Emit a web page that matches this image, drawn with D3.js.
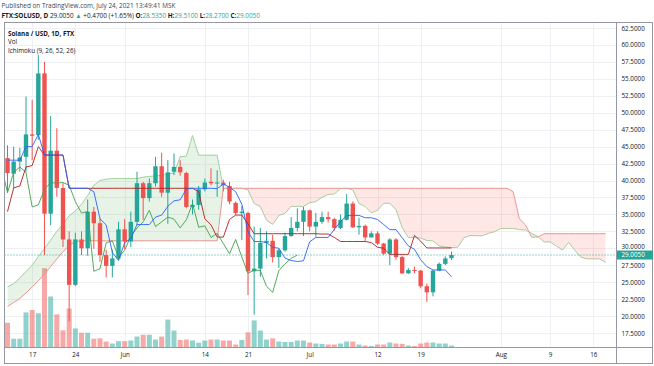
<!DOCTYPE html>
<html><head><meta charset="utf-8">
<script src="https://cdn.jsdelivr.net/npm/d3@7"></script>
<style>
html,body{margin:0;padding:0;background:#fff;}
svg{display:block;font-family:"Open Sans",Roboto,sans-serif;}
</style></head><body>
<svg id="chart" width="654" height="366"></svg>
<script>
// ---------- DATA ----------
const startDate = "2021-05-13";   // first candle; one candle per day
const opens  = [43.3,41.0,42.8,43.5,46.8,46.7,55.8,35.1,44.4,38.9,31.3,24.6,31.3,30.0,35.4,33.7,29.0,27.4,28.5,32.8,31.0,33.9,39.6,37.4,39.6,42.1,38.2,41.3,42.0,41.1,36.1,36.4,38.7,39.8,39.6,39.7,39.2,36.7,35.2,35.2,26.6,27.0,30.8,31.1,28.7,29.7,31.8,33.0,33.9,35.6,33.2,33.9,34.6,34.3,33.0,34.2,36.6,33.1,33.3,31.6,32.2,30.7,29.2,31.3,28.7,26.3,26.8,26.7,24.4,23.5,26.7,27.7,28.535];
const highs  = [45.2,45.0,44.8,52.4,51.9,58.5,57.5,49.5,47.7,39.6,32.5,32.3,32.5,37.2,36.1,34.4,29.8,29.8,33.9,34.3,35.4,41.3,39.8,40.3,43.5,44.1,43.0,44.0,43.0,41.3,37.2,39.2,40.3,41.8,41.5,40.1,39.8,36.9,36.2,35.4,33.2,33.0,32.5,32.0,30.0,32.3,34.6,35.9,36.1,35.7,35.2,35.4,35.4,34.5,35.0,38.0,36.9,34.5,33.5,32.5,32.5,30.8,31.5,31.5,28.9,27.1,27.3,26.8,24.8,26.8,27.9,28.8,29.51];
const lows   = [38.4,38.9,41.3,41.3,43.0,46.0,29.0,33.4,37.6,30.2,19.2,24.4,29.0,28.9,29.9,28.0,25.7,25.7,28.3,29.9,30.2,33.4,34.2,36.9,39.1,37.6,33.6,40.8,40.7,35.9,35.0,35.7,38.4,39.3,37.6,38.4,36.5,34.9,31.2,23.1,20.2,25.8,28.5,27.9,27.1,29.5,31.7,32.5,31.8,32.5,31.7,33.6,33.8,32.6,32.8,34.1,33.0,32.0,31.0,31.6,30.5,29.0,27.5,28.3,26.2,26.2,26.3,24.1,22.1,22.9,26.6,27.5,28.27];
const closes = [41.1,42.8,43.4,46.8,46.6,55.8,35.1,44.4,38.9,31.3,24.6,31.3,30.0,35.4,33.7,29.0,27.4,28.5,32.8,31.0,33.9,39.6,37.4,39.6,42.1,38.2,41.2,42.0,41.2,36.1,36.4,38.7,39.7,39.6,39.7,39.3,36.9,35.2,35.4,26.6,27.0,30.8,31.1,28.7,29.7,31.8,33.0,33.9,35.6,33.2,33.9,34.6,34.3,33.0,34.2,36.6,33.1,33.3,31.6,32.2,30.7,29.2,31.3,28.7,26.3,26.8,26.7,24.4,23.5,26.7,27.7,28.5,29.005];
// volume (thousand SOL)
const volumes = [620,220,220,880,940,860,1990,1280,830,430,980,480,370,370,220,230,150,100,160,160,175,275,320,320,200,275,700,425,190,200,175,120,175,200,200,175,175,75,190,380,680,425,200,230,150,140,140,175,175,125,100,90,75,75,100,150,150,75,50,40,75,75,125,100,90,50,40,100,125,125,100,100,50];
// Ichimoku lines, one value per candle
const tenkan = [43.0,43.0,43.0,45.0,45.0,46.8,43.75,43.75,43.75,43.75,38.85,38.85,38.85,38.85,38.35,34.35,33.45,29.4,28.2,30.8,31.45,33.5,33.5,33.5,34.6,34.9,36.2,37.0,37.15,38.75,38.85,38.85,38.85,38.85,38.8,39.5,39.0,38.35,36.5,32.45,31.0,31.0,30.85,30.15,30.0,28.55,28.2,28.05,28.15,30.95,31.6,31.6,31.6,32.8,33.9,34.85,34.85,34.85,34.5,34.5,34.25,33.5,32.75,32.75,31.55,30.35,29.85,28.3,27.3,26.8,26.8,26.8,25.8];
const kijun  = [35.4,38.9,39.2,42.0,42.2,45.0,43.75,43.75,43.75,43.75,38.85,38.85,38.85,38.85,38.85,38.85,38.85,38.85,38.85,38.85,38.85,38.85,38.85,38.85,38.85,38.85,38.85,38.85,38.85,38.85,38.85,38.35,34.35,33.45,31.65,31.65,34.25,34.9,34.9,33.6,32.15,32.15,32.15,32.15,32.15,32.15,32.15,32.15,32.15,32.15,32.15,32.1,32.1,31.6,31.0,31.0,31.0,31.0,31.0,30.85,30.15,30.0,29.1,29.1,29.1,29.1,31.9,31.05,30.05,30.05,30.05,30.05,30.05];
// leading spans, one value per day starting at the first candle (run 25 days past the last one)
const spanA = [24.3,24.8,25.6,26.6,27.5,28.8,30.0,31.2,32.5,33.6,34.8,35.5,36.5,37.8,39.3,40.0,40.2,40.3,40.3,40.3,40.3,40.3,40.5,40.6,40.7,
  40.75,41.0,41.1,43.5,43.6,46.65,43.75,43.75,43.75,43.75,38.85,38.85,38.85,38.85,38.6,36.6,36.15,34.13,33.53,34.83,35.15,36.18,36.18,36.18,36.73,36.88,37.53,37.93,38.0,38.8,38.85,38.6,36.6,36.15,35.23,35.58,36.63,36.63,35.7,33.03,31.58,31.58,31.5,31.15,31.08,30.35,30.18,30.1,30.15,31.55,31.88,31.85,31.85,32.2,32.45,32.93,32.93,32.93,32.75,32.68,32.2,31.75,30.93,30.93,30.33,29.73,30.88,29.68,28.68,28.43,28.43,28.43,27.93];
const spanB = [21.4,22.0,22.6,23.4,24.3,25.2,26.2,27.3,28.4,29.5,30.4,31.0,31.1,31.1,31.1,31.1,31.1,31.1,31.1,31.1,31.1,31.1,31.1,31.1,31.1,31.1,31.1,31.1,31.1,31.1,31.1,31.1,31.1,31.1,31.1,
  38.85,38.85,38.85,38.85,38.85,38.85,38.85,38.85,38.85,38.85,38.85,38.85,38.85,38.85,38.85,38.85,38.85,38.85,38.85,38.85,38.85,38.85,38.85,38.85,38.85,38.85,38.85,38.85,38.85,38.85,38.85,38.85,38.85,38.85,38.85,38.85,38.85,38.85,38.85,38.85,38.85,38.85,38.85,38.85,38.85,38.85,38.85,
  38.35,34.35,33.45,31.65,31.65,32.15,32.15,32.15,32.15,32.15,32.15,32.15,32.15,32.15,32.15,32.15];
const laggingShift = 25;  // lagging span drawn 25 candles back
const priceTicks = [17.5,20,22.5,25,27.5,30,32.5,35,37.5,40,42.5,45,47.5,50,52.5,55,57.5,60,62.5];
const xTickDates  = ["2021-05-17","2021-05-24","2021-06-01","2021-06-14","2021-06-21","2021-07-01","2021-07-12","2021-07-19","2021-08-01","2021-08-09","2021-08-16"];
const xTickLabels = ["17","24","Jun","14","21","Jul","12","19","Aug","9","16"];
const lastPrice = 29.005;

// ---------- LAYOUT ----------
const UP = "#26a69a", DOWN = "#ef5350";
const P = {left:4.5, top:22.5, right:616.5, bottom:347.5};
const svg = d3.select("#chart");
const parseDay = d3.timeParse("%Y-%m-%d");
const d0 = parseDay(startDate);
const dayAt = k => d3.timeDay.offset(d0, k);
const x = d3.scaleTime().domain([dayAt(0), dayAt(72)]).range([7.5, 451.5]);
const y = d3.scaleLinear().domain([17.5, 62.5]).range([333, 28]);
const vy = d3.scaleLinear().domain([0, 2000]).range([347.5, 267.8]);
const n = closes.length;
const idx = d3.range(n);

svg.append("rect").attr("width",654).attr("height",366).attr("fill","#fff");
const defs = svg.append("defs");
defs.append("clipPath").attr("id","plotclip").append("rect")
  .attr("x",P.left).attr("y",P.top).attr("width",P.right-P.left).attr("height",P.bottom-P.top);

// grid
const grid = svg.append("g").attr("stroke","#eef0f4").attr("stroke-width",1);
xTickDates.forEach(s => { const xx = Math.round(x(parseDay(s)))+0.5;
  grid.append("line").attr("x1",xx).attr("x2",xx).attr("y1",P.top).attr("y2",P.bottom); });
priceTicks.forEach(p => { const yy = Math.round(y(p))+0.5;
  grid.append("line").attr("x1",P.left).attr("x2",P.right).attr("y1",yy).attr("y2",yy); });

const plot = svg.append("g").attr("clip-path","url(#plotclip)");

// volume
const bw = 5.0;
plot.append("g").selectAll("rect").data(idx).join("rect")
  .attr("x", i => x(dayAt(i)) - bw/2).attr("width", bw)
  .attr("y", i => vy(volumes[i])).attr("height", i => vy(0) - vy(volumes[i]))
  .attr("fill", i => closes[i] >= opens[i] ? "rgba(38,166,154,0.5)" : "rgba(239,83,80,0.5)");

// cloud
const ns = spanA.length;
const sIdx = d3.range(ns);
const sx = j => x(dayAt(j));
plot.append("path").datum(sIdx).attr("fill","none").attr("stroke","#a5d6a7").attr("stroke-width",1)
  .attr("d", d3.line().x(sx).y(j => y(spanA[j])));
plot.append("path").datum(sIdx).attr("fill","none").attr("stroke","#ef9a9a").attr("stroke-width",1)
  .attr("d", d3.line().x(sx).y(j => y(spanB[j])));
defs.append("clipPath").attr("id","aboveB").append("path").datum(sIdx)
  .attr("d", d3.area().x(sx).y0(0).y1(j => y(spanB[j])));
defs.append("clipPath").attr("id","belowB").append("path").datum(sIdx)
  .attr("d", d3.area().x(sx).y0(366).y1(j => y(spanB[j])));
const between = d3.area().x(sx).y0(j => y(spanB[j])).y1(j => y(spanA[j]));
const cg = plot.append("g");
cg.append("path").datum(sIdx).attr("clip-path","url(#aboveB)").attr("fill","rgba(67,160,71,0.13)").attr("d", between);
cg.append("path").datum(sIdx).attr("clip-path","url(#belowB)").attr("fill","rgba(244,67,54,0.13)").attr("d", between);

// candles
const cw = 4.4;
const cndl = plot.append("g");
cndl.selectAll("line").data(idx).join("line")
  .attr("x1", i => x(dayAt(i))).attr("x2", i => x(dayAt(i)))
  .attr("y1", i => y(highs[i])).attr("y2", i => y(lows[i]))
  .attr("stroke", i => closes[i] >= opens[i] ? UP : DOWN).attr("stroke-width",1);
cndl.selectAll("rect").data(idx).join("rect")
  .attr("x", i => x(dayAt(i)) - cw/2).attr("width", cw)
  .attr("y", i => y(Math.max(opens[i], closes[i])))
  .attr("height", i => Math.max(1, Math.abs(y(opens[i]) - y(closes[i]))))
  .attr("fill", i => closes[i] >= opens[i] ? UP : DOWN);

// lines
const lag = idx.filter(i => i >= laggingShift - 1);
plot.append("path").datum(lag).attr("fill","none").attr("stroke","#43a047").attr("stroke-width",0.9)
  .attr("d", d3.line().x(i => x(dayAt(i - laggingShift))).y(i => y(closes[i])));
plot.append("path").datum(idx).attr("fill","none").attr("stroke","#b71c1c").attr("stroke-width",0.9)
  .attr("d", d3.line().x(i => x(dayAt(i))).y(i => y(kijun[i])));
plot.append("path").datum(idx).attr("fill","none").attr("stroke","#2962ff").attr("stroke-width",0.9)
  .attr("d", d3.line().x(i => x(dayAt(i))).y(i => y(tenkan[i])));

// last price line
plot.append("line").attr("x1",P.left).attr("x2",P.right).attr("y1",y(lastPrice)).attr("y2",y(lastPrice))
  .attr("stroke",UP).attr("stroke-width",1).attr("stroke-dasharray","1,2");

// frame
const fr = svg.append("g").attr("stroke","#9598a1").attr("stroke-width",1).attr("fill","none");
fr.append("rect").attr("x",4.5).attr("y",22.5).attr("width",648).attr("height",341);
fr.append("line").attr("x1",4.5).attr("x2",652.5).attr("y1",P.bottom).attr("y2",P.bottom);
fr.append("line").attr("x1",P.right).attr("x2",P.right).attr("y1",22.5).attr("y2",363.5);

// price axis
const ya = svg.append("g").attr("transform",`translate(${P.right},0)`)
  .call(d3.axisRight(y).tickValues(priceTicks).tickFormat(d3.format(".4f")).tickSize(0).tickPadding(5));
ya.select(".domain").remove();
ya.selectAll("text").attr("font-size","6.3px").attr("fill","#131722").attr("font-family","Open Sans");
// the tick label just above the last-price box is nudged up so both stay readable
ya.selectAll(".tick").filter(d => d > lastPrice && y(lastPrice) - y(d) < 9).select("text").attr("dy","0.05em");
const lp = svg.append("g");
lp.append("rect").attr("x",P.right+0.5).attr("y",y(lastPrice)-4.5).attr("width",36).attr("height",9).attr("fill",UP);
lp.append("text").attr("x",P.right+5).attr("y",y(lastPrice)).attr("dy","0.35em").attr("font-size","6.3px").attr("fill","#fff").text(d3.format(".4f")(lastPrice));

// time axis
const xa = svg.append("g").attr("transform",`translate(0,${P.bottom})`)
  .call(d3.axisBottom(x).tickValues(xTickDates.map(parseDay)).tickFormat((d,i) => xTickLabels[i]).tickSize(0).tickPadding(5));
xa.select(".domain").remove();
xa.selectAll("text").attr("font-size","6.3px").attr("fill","#131722").attr("font-family","Open Sans");

// header
const hd = svg.append("g").attr("font-size","6.4px").attr("fill","#131722");
hd.append("text").attr("x",1.5).attr("y",8).attr("fill","#434651").text("Published on TradingView.com, July 24, 2021 13:49:41 MSK");
const t2 = hd.append("text").attr("x",1.5).attr("y",18);
const parts = [["FTX:SOLUSD, D ",700,"#131722"],["29.0050 ",400,"#131722"],["▲ ",400,UP],["+0.4700 (+1.65%) ",400,"#131722"],
  ["O:",700,"#131722"],["28.5350 ",400,UP],["H:",700,"#131722"],["29.5100 ",400,UP],["L:",700,"#131722"],["28.2700 ",400,UP],["C:",700,"#131722"],["29.0050",400,UP]];
parts.forEach(p => t2.append("tspan").attr("font-weight",p[1]).attr("fill",p[2]).text(p[0]));
const lg = svg.append("g").attr("font-size","6.3px").attr("fill","#131722");
lg.append("text").attr("x",8).attr("y",35.5).attr("font-weight",700).text("Solana / USD, 1D, FTX");
lg.append("text").attr("x",8).attr("y",44).text("Vol");
lg.append("text").attr("x",8).attr("y",52.5).text("Ichimoku (9, 26, 52, 26)");
</script>
</body></html>
